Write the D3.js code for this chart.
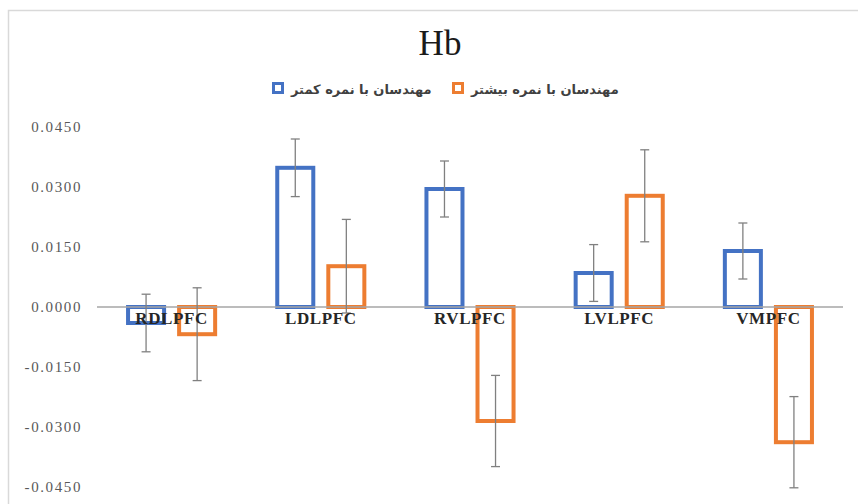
<!DOCTYPE html>
<html>
<head>
<meta charset="utf-8">
<script src="https://cdn.jsdelivr.net/npm/d3@7"></script>
<style>
  body { margin: 0; background: #fff; }
  svg { display: block; }
</style>
</head>
<body>
<svg id="chart" width="858" height="504"></svg>
<script>
// regions on the x axis
const regions = ['RDLPFC', 'LDLPFC', 'RVLPFC', 'LVLPFC', 'VMPFC'];
const groupNames = ['مهندسان با نمره کمتر', 'مهندسان با نمره بیشتر'];
const groupColors = ['#4472c4', '#ed7d31'];

// mean values
const lowScore = [-0.0040, 0.0348, 0.0295, 0.0085, 0.0140];
const highScore = [-0.0068, 0.0102, -0.0285, 0.0278, -0.0338];
// error bar half lengths
const lowErr = [0.0072, 0.0072, 0.0070, 0.0071, 0.0070];
const highErr = [0.0116, 0.0117, 0.0114, 0.0115, 0.0114];

const yTicks = [-0.045, -0.03, -0.015, 0, 0.015, 0.03, 0.045];

let series = [lowScore, highScore];
let errs = [lowErr, highErr];
let rows = [];
regions.forEach(function (r, i) {
  series.forEach(function (s, g) {
    rows.push({region: r, group: g, value: s[i], err: errs[g][i]});
  });
});

const svg = d3.select('#chart');

// light frame of the original chart
svg.append('path')
  .attr('d', 'M8.5,504 L8.5,10.5 L858,10.5')
  .attr('fill', 'none')
  .attr('stroke', '#d9d9d9')
  .attr('stroke-width', 1.5);

let x0 = d3.scaleBand().domain(regions).range([97, 843]);
let x1 = d3.scaleBand().domain([0, 1]).range([0, x0.bandwidth()])
  .paddingInner(0.216).paddingOuter(0.569);
let y = d3.scaleLinear().domain([-0.045, 0.045]).range([487, 127]);

let fmt = d => d3.format('.4f')(d).replace('−', '-');

// title
svg.append('text')
  .attr('x', 440).attr('y', 55)
  .attr('text-anchor', 'middle')
  .attr('font-family', 'Liberation Serif, Times New Roman, serif')
  .attr('font-size', 35)
  .attr('fill', '#1a1a1a')
  .text('Hb');

// legend
let legendX = [272, 452];
let legend = svg.append('g').selectAll('g').data(groupNames).join('g')
  .attr('transform', (d, i) => `translate(${legendX[i]},89)`);
legend.append('rect')
  .attr('x', 1.5).attr('y', -5.5).attr('width', 9).attr('height', 9)
  .attr('fill', '#fff')
  .attr('stroke', (d, i) => groupColors[i])
  .attr('stroke-width', 3);
legend.append('text')
  .attr('x', 19).attr('y', 4.5)
  .attr('font-family', 'DejaVu Sans, sans-serif')
  .attr('font-weight', 'bold')
  .attr('font-size', 13)
  .attr('fill', '#404040')
  .text(d => d);

// y axis labels, no axis line
let yAxis = d3.axisLeft(y).tickValues(yTicks).tickFormat(fmt).tickSize(0).tickPadding(0);
let yg = svg.append('g').attr('transform', 'translate(82,0)').call(yAxis);
yg.select('.domain').remove();
yg.selectAll('text')
  .attr('font-family', 'Liberation Serif, Times New Roman, serif')
  .attr('font-size', 15)
  .attr('letter-spacing', 1.6)
  .attr('fill', '#595959');

// bars
let bars = svg.append('g').selectAll('rect').data(rows).join('rect')
  .attr('x', d => x0(d.region) + x1(d.group) + 2)
  .attr('width', x1.bandwidth() - 4)
  .attr('y', d => Math.min(y(d.value), y(0)))
  .attr('height', d => Math.abs(y(d.value) - y(0)))
  .attr('fill', '#fff')
  .attr('stroke', d => groupColors[d.group])
  .attr('stroke-width', 4);

// zero line
svg.append('line')
  .attr('x1', 97).attr('x2', 843)
  .attr('y1', y(0)).attr('y2', y(0))
  .attr('stroke', '#a6a6a6')
  .attr('stroke-width', 1.5);

// error bars
let eb = svg.append('g').selectAll('g').data(rows).join('g')
  .attr('transform', d => `translate(${x0(d.region) + x1(d.group) + x1.bandwidth() / 2},0)`)
  .attr('stroke', '#808080')
  .attr('stroke-width', 1.3);
eb.append('line')
  .attr('y1', d => y(d.value + d.err)).attr('y2', d => y(d.value - d.err));
eb.append('line')
  .attr('x1', -4.5).attr('x2', 4.5)
  .attr('y1', d => y(d.value + d.err)).attr('y2', d => y(d.value + d.err));
eb.append('line')
  .attr('x1', -4.5).attr('x2', 4.5)
  .attr('y1', d => y(d.value - d.err)).attr('y2', d => y(d.value - d.err));

// category labels drawn across the zero line
svg.append('g').selectAll('text').data(regions).join('text')
  .attr('x', d => x0(d) + x0.bandwidth() / 2)
  .attr('y', y(0) + 17)
  .attr('text-anchor', 'middle')
  .attr('font-family', 'Liberation Serif, Times New Roman, serif')
  .attr('font-weight', 'bold')
  .attr('font-size', 17)
  .attr('letter-spacing', 0.6)
  .attr('fill', '#262626')
  .text(d => d);
</script>
</body>
</html>
